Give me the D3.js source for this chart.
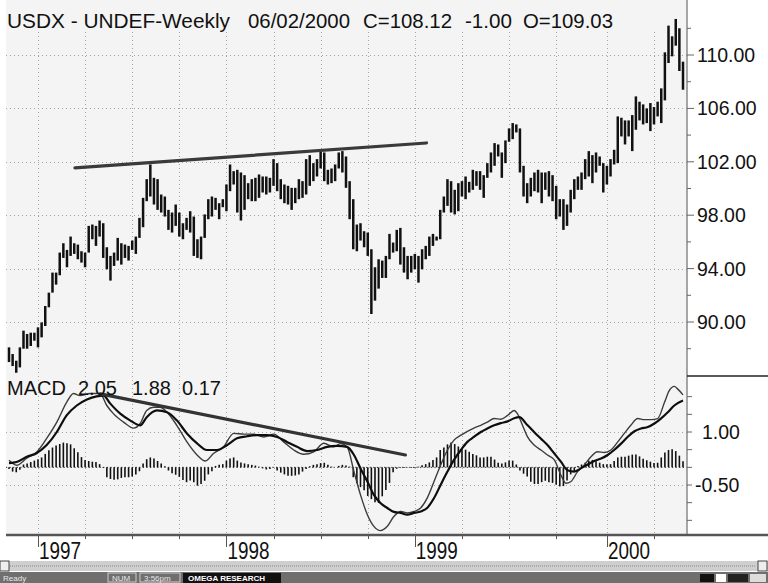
<!DOCTYPE html>
<html>
<head>
<meta charset="utf-8">
<script src="https://cdnjs.cloudflare.com/ajax/libs/d3/7.8.5/d3.min.js"></script>
<style>
  body { margin: 0; background: #fff; }
  svg { display: block; font-family: "Liberation Sans", Arial, sans-serif; }
</style>
</head>
<body>
<svg id="chart" width="768" height="583"></svg>
<script>
// weekly bars, first one on Fri 8 Nov 1996, last on 06/02/2000
const firstWeek = new Date(1996, 10, 8);

const highs = [
  88.1, 87.6, 87.1, 88.1, 89.35, 89.1, 89.2, 89.2, 89.6, 89.97,
  91.2, 92.2, 93.7, 93.7, 95.2, 95.9, 95.4, 96.4, 95.9, 95.8,
  95.3, 95.2, 97.2, 97.3, 97.2, 97.6, 97.4, 95.6, 94.95, 95.2,
  96.3, 95.9, 95.8, 95.7, 96.1, 96.4, 97.8, 99.3, 100.7, 101.8,
  100.8, 100.7, 99.55, 99.4, 98.4, 98.2, 98.8, 98.2, 97.4, 97.8,
  98.3, 97.9, 96.2, 96.4, 98.06, 99.2, 99.4, 99.3, 98.9, 99.2,
  100.3, 101.8, 101.3,
  101.4, 101.2, 101.0, 100.4, 100.7, 100.8, 101.05, 100.9, 100.9, 100.8,
  102.2, 101.9, 100.7, 100.3, 100.2, 100.05, 100.05, 100.7, 100.55, 102.2,
  102.5, 101.9, 102.2, 102.8, 102.7, 101.4, 101.5, 101.8, 102.7, 102.8,
  102.4, 100.55, 99.2, 97.3, 97.4, 96.8, 96.7, 95.45, 94.1, 94.7,
  94.6, 94.95, 96.6, 95.95, 96.9, 97.05, 95.6, 94.95, 94.95, 95.1,
  94.95, 95.45, 95.7, 96.4, 96.6, 96.4, 98.4, 99.4, 100.7, 100.55,
  99.9, 100.4, 100.55,
  100.9, 100.5, 101.4, 101.3, 101.3, 101.0, 101.9, 102.7, 103.4, 103.3,
  102.7, 103.6, 104.5, 104.9, 104.8, 104.5, 101.7, 100.4, 100.8, 101.2,
  101.4, 101.2, 101.2, 101.3, 101.0, 100.2, 99.2, 99.2, 98.8, 99.9,
  100.7, 100.9, 101.2, 102.2, 102.8, 102.5, 102.7, 102.4, 101.9, 101.7,
  102.2, 102.9, 105.4, 105.3, 105.1, 105.1, 105.5, 106.9, 106.5, 106.3,
  106.0, 106.4, 106.1, 106.5, 107.5, 110.2, 112.2, 111.4, 112.7, 112.0,
  109.5
];

const lows = [
  87.0, 86.7, 86.2, 86.6, 88.0, 88.0, 88.2, 88.6, 88.1, 88.85,
  89.7, 91.1, 92.2, 92.8, 93.5, 94.8, 94.1, 94.95, 95.1, 94.7,
  94.45, 94.1, 95.2, 96.2, 95.7, 96.4, 94.8, 93.95, 93.1, 94.2,
  94.6, 94.3, 94.8, 94.6, 95.4, 95.1, 96.3, 97.1, 99.05, 99.4,
  98.8, 98.4, 98.2, 97.9, 96.9, 96.7, 97.2, 96.4, 96.2, 96.9,
  96.7, 94.95, 94.8, 94.7, 96.3, 97.7, 97.9, 98.4, 97.7, 98.6,
  98.3, 99.8, 100.3,
  98.2, 97.6, 98.4, 99.2, 99.05, 99.05, 99.3, 99.7, 99.55, 99.7,
  100.2, 99.8, 99.2, 98.9, 98.8, 98.4, 98.9, 99.2, 99.3, 99.55,
  100.2, 100.55, 100.9, 101.5, 100.55, 100.3, 100.4, 100.55, 101.5, 101.2,
  100.05, 97.7, 95.45, 95.3, 96.1, 95.6, 94.95, 90.6, 91.6, 92.5,
  93.3, 93.3, 94.7, 95.2, 95.3, 94.3, 93.7, 93.2, 93.7, 93.95,
  92.95, 93.95, 94.7, 94.95, 95.7, 96.1, 96.2, 98.2, 98.7, 98.2,
  98.06, 98.3, 99.4,
  99.2, 99.7, 99.9, 100.2, 99.9, 99.3, 100.8, 101.2, 101.7, 102.4,
  100.8, 101.9, 103.5, 103.7, 104.2, 101.2, 99.4, 98.9, 99.4, 99.8,
  99.7, 98.9, 99.9, 99.4, 99.05, 97.7, 97.9, 96.9, 97.2, 98.2,
  99.2, 99.9, 99.9, 100.7, 100.9, 100.4, 101.2, 101.7, 99.7, 100.3,
  100.9, 101.8, 101.9, 103.9, 103.3, 103.9, 102.8, 104.4, 105.1, 104.8,
  104.9, 104.3, 104.8, 105.4, 104.9, 106.6, 109.4, 109.9, 110.7, 108.8,
  107.4
];

// MACD and its signal line, [week, value]
const macdLine = [
  [0, 0.20], [2.1, 0.06], [4.9, 0.26], [7.6, 0.43], [10.4, 0.82], [13.2, 1.28], [15.9, 1.84],
  [17.8, 2.09], [19.6, 2.03], [22.4, 2.09], [25.1, 2.09], [27.0, 1.75], [28.8, 1.52], [31.6, 1.28],
  [34.4, 1.11], [36.2, 1.24], [38.0, 1.61], [39.9, 1.70], [41.7, 1.70], [43.6, 1.56], [46.3, 1.19],
  [49.1, 0.72], [51.9, 0.35], [54.2, 0.18], [56.5, 0.40], [59.2, 0.58], [62.0, 0.96], [64.8, 0.94],
  [67.5, 0.94], [70.3, 0.86], [73.1, 0.94], [75.8, 0.72], [78.6, 0.49], [81.3, 0.37], [84.1, 0.44],
  [86.9, 0.68], [89.6, 0.58], [91.5, 0.67], [93.3, 0.58], [95.2, -0.12], [97.0, -0.78], [98.9, -1.34],
  [100.7, -1.67], [102.5, -1.79], [104.4, -1.67], [106.2, -1.39], [108.1, -1.25], [109.9, -1.29],
  [111.8, -1.25], [113.6, -1.15], [115.4, -0.87], [117.3, -0.40], [119.1, 0.06], [121.0, 0.49],
  [122.8, 0.77], [124.7, 0.91], [126.5, 1.02], [128.3, 1.11], [130.2, 1.19], [132.0, 1.28],
  [133.9, 1.38], [135.7, 1.36], [137.6, 1.47], [139.4, 1.61], [140.3, 1.52], [141.7, 1.19],
  [143.1, 0.86], [144.9, 0.63], [146.8, 0.49], [148.6, 0.35], [150.5, 0.21], [152.3, -0.22],
  [153.7, -0.45], [155.1, -0.40], [156.9, -0.12], [158.7, 0.06], [160.6, 0.30], [162.4, 0.44],
  [164.3, 0.42], [166.1, 0.49], [168.0, 0.72], [169.8, 0.96], [171.6, 1.19], [173.5, 1.38],
  [175.3, 1.35], [177.2, 1.35], [179.0, 1.38], [180.9, 1.84], [182.2, 2.17], [183.6, 2.29],
  [184.5, 2.22], [186, 2.05]
];

const signalLine = [
  [0, 0.12], [2.1, 0.15], [4.9, 0.30], [7.6, 0.40], [10.4, 0.63], [13.2, 1.00], [15.9, 1.47],
  [18.7, 1.75], [21.5, 1.92], [24.2, 2.01], [26.1, 2.03], [27.9, 1.81], [30.7, 1.52], [33.4, 1.33],
  [36.2, 1.19], [38.0, 1.42], [40.8, 1.61], [43.6, 1.56], [46.3, 1.33], [49.1, 0.96], [51.9, 0.68],
  [54.6, 0.49], [57.4, 0.49], [60.2, 0.63], [62.9, 0.82], [65.7, 0.88], [68.4, 0.91], [71.2, 0.91],
  [74.0, 0.86], [76.7, 0.72], [79.5, 0.58], [82.3, 0.46], [85.0, 0.49], [87.8, 0.58], [90.6, 0.61],
  [93.3, 0.58], [95.2, 0.35], [97.0, -0.03], [98.9, -0.40], [100.7, -0.78], [102.5, -1.01],
  [104.4, -1.15], [106.2, -1.26], [108.1, -1.29], [109.9, -1.34], [111.8, -1.29], [113.6, -1.25],
  [115.4, -1.15], [117.3, -0.87], [119.1, -0.50], [121.0, -0.12], [122.8, 0.21], [124.7, 0.49],
  [126.5, 0.72], [128.3, 0.86], [130.2, 1.00], [132.0, 1.10], [133.9, 1.19], [135.7, 1.25],
  [137.6, 1.30], [139.4, 1.39], [140.8, 1.42], [143.1, 1.19], [144.9, 1.00], [146.8, 0.81],
  [148.6, 0.63], [150.5, 0.39], [152.3, 0.16], [154.1, -0.08], [156.0, -0.12], [157.8, -0.03],
  [159.7, 0.08], [161.5, 0.18], [163.4, 0.25], [165.2, 0.35], [167.0, 0.49], [168.9, 0.67],
  [170.7, 0.86], [172.6, 1.02], [174.4, 1.10], [176.3, 1.14], [178.1, 1.24], [179.9, 1.38],
  [181.8, 1.56], [183.6, 1.75], [186, 1.89]
];

// one histogram value per week
const histogram = [
  -0.05, -0.12, -0.14, -0.07, 0.08, 0.11, 0.15, 0.19, 0.23, 0.28,
  0.38, 0.48, 0.56, 0.62, 0.66, 0.70, 0.68, 0.65, 0.54, 0.43,
  0.29, 0.21, 0.18, 0.16, 0.15, 0.09, -0.02, -0.28, -0.33, -0.35,
  -0.34, -0.30, -0.28, -0.28, -0.26, -0.20, -0.11, 0.11, 0.23, 0.28,
  0.25, 0.18, 0.11, 0.03, -0.09, -0.17, -0.21, -0.27, -0.36, -0.42,
  -0.37, -0.42, -0.52, -0.47, -0.38, -0.20, -0.11, 0.04, 0.07, 0.09,
  0.19, 0.25, 0.28, 0.19, 0.14, 0.11, 0.09, 0.07, 0.05, 0.02,
  -0.03, -0.06, -0.05, -0.01, -0.09, -0.15, -0.20, -0.24, -0.24, -0.23,
  -0.20, -0.12, -0.05, 0.03, 0.07, 0.09, 0.12, 0.13, 0.07, 0.02,
  0.00, 0.04, 0.07, 0.05, 0.02, -0.28, -0.45, -0.56, -0.65, -0.81,
  -0.90, -0.99, -1.01, -0.82, -0.64, -0.44, -0.14, -0.04, -0.02, -0.02,
  -0.01, -0.02, -0.02, 0.02, 0.06, 0.09, 0.14, 0.21, 0.28, 0.49,
  0.56, 0.65, 0.70, 0.66, 0.59, 0.54, 0.50, 0.44, 0.38, 0.34,
  0.28, 0.28, 0.30, 0.30, 0.22, 0.13, 0.11, 0.14, 0.19, 0.19,
  0.08, -0.09, -0.18, -0.26, -0.41, -0.47, -0.47, -0.42, -0.38, -0.42,
  -0.44, -0.49, -0.54, -0.53, -0.37, -0.20, -0.10, 0.04, 0.08, 0.13,
  0.19, 0.21, 0.17, 0.13, 0.09, 0.09, 0.09, 0.18, 0.28, 0.30,
  0.30, 0.33, 0.36, 0.36, 0.31, 0.24, 0.20, 0.16, 0.12, 0.13,
  0.28, 0.42, 0.49, 0.51, 0.46, 0.33, 0.17
];

// hand drawn trend lines, [week, value]
const priceTrend = [[18.2, 101.54], [115.2, 103.41]];
const macdTrend = [[25.2, 2.08], [109.4, 0.35]];

const priceTicks = [90, 94, 98, 102, 106, 110];
const priceMinor = [88, 92, 96, 100, 104, 108, 112];
const macdTicks = [-1.5, -1, -0.5, 0, 0.5, 1, 1.5, 2];
const macdLabels = [1.0, -0.5];

const titleParts = ["USDX - UNDEF-Weekly", "06/02/2000", "C=108.12", "-1.00", "O=109.03"];
const macdParts = ["MACD", "2.05", "1.88", "0.17"];

const svg = d3.select("#chart");
const W = 768, H = 583;
const left = 6, axisX = 687, split = 376, bottom = 534;

const weeks = d3.range(highs.length).map(i => d3.timeDay.offset(firstWeek, 7 * i));
const x = d3.scaleLinear().domain([0, highs.length - 1]).range([9, 683]);
const y = d3.scaleLinear().domain([90, 110]).range([322, 55]);
const m = d3.scaleLinear().domain([-0.5, 1]).range([485, 432]);

// first bar of each quarter / year
const quarterStarts = weeks.map((d, i) => i).filter(i => i > 0 &&
  Math.floor(weeks[i].getMonth() / 3) !== Math.floor(weeks[i - 1].getMonth() / 3));
const yearStarts = quarterStarts.filter(i => weeks[i].getFullYear() !== weeks[i - 1].getFullYear());

svg.append("rect").attr("width", W).attr("height", H).attr("fill", "#fff");
svg.append("rect").attr("x", left).attr("y", 0).attr("width", axisX - left).attr("height", bottom)
  .attr("fill", "#f4f4f4");

// grid
const grid = svg.append("g").attr("stroke", "#a4a4a4").attr("stroke-width", 1)
  .attr("stroke-dasharray", "1,3");
grid.selectAll(".vg").data(quarterStarts).enter().append("line")
  .attr("x1", d => Math.round(x(d)) + 0.5).attr("x2", d => Math.round(x(d)) + 0.5)
  .attr("y1", 32).attr("y2", bottom);
grid.selectAll(".hg").data(priceTicks).enter().append("line")
  .attr("x1", left).attr("x2", axisX)
  .attr("y1", d => Math.round(y(d)) + 0.5).attr("y2", d => Math.round(y(d)) + 0.5);
grid.selectAll(".mg").data(macdLabels).enter().append("line")
  .attr("x1", left).attr("x2", axisX)
  .attr("y1", d => Math.round(m(d)) + 0.5).attr("y2", d => Math.round(m(d)) + 0.5);

// price bars
svg.append("g").selectAll("line").data(highs).enter().append("line")
  .attr("x1", (d, i) => x(i)).attr("x2", (d, i) => x(i))
  .attr("y1", d => y(d)).attr("y2", (d, i) => y(lows[i]))
  .attr("stroke", "#111").attr("stroke-width", 2.5);

svg.append("line")
  .attr("x1", x(priceTrend[0][0])).attr("y1", y(priceTrend[0][1]))
  .attr("x2", x(priceTrend[1][0])).attr("y2", y(priceTrend[1][1]))
  .attr("stroke", "#3a3a3a").attr("stroke-width", 3.2).attr("stroke-linecap", "round");

// MACD pane
svg.append("line").attr("x1", left).attr("x2", axisX).attr("y1", m(0)).attr("y2", m(0))
  .attr("stroke", "#333").attr("stroke-dasharray", "1.2,2.4");

svg.append("g").selectAll("line").data(histogram).enter().append("line")
  .attr("x1", (d, i) => x(i)).attr("x2", (d, i) => x(i))
  .attr("y1", m(0)).attr("y2", d => m(d))
  .attr("stroke", "#111").attr("stroke-width", 1.6);

const line = d3.line().x(d => x(d[0])).y(d => m(d[1])).curve(d3.curveMonotoneX);
svg.append("path").datum(macdLine).attr("d", line)
  .attr("fill", "none").attr("stroke", "#3c3c3c").attr("stroke-width", 1.4);
svg.append("path").datum(signalLine).attr("d", line)
  .attr("fill", "none").attr("stroke", "#0e0e0e").attr("stroke-width", 2.2);

svg.append("line")
  .attr("x1", x(macdTrend[0][0])).attr("y1", m(macdTrend[0][1]))
  .attr("x2", x(macdTrend[1][0])).attr("y2", m(macdTrend[1][1]))
  .attr("stroke", "#333").attr("stroke-width", 3.2).attr("stroke-linecap", "round");

// labels on the panes
const titleX = [7, 248, 363, 465, 523];
const titleW = [223, 102, 89, 47, 90];
svg.append("g").selectAll("text").data(titleParts).enter().append("text")
  .attr("x", (d, i) => titleX[i]).attr("y", 28)
  .attr("textLength", (d, i) => titleW[i]).attr("lengthAdjust", "spacingAndGlyphs")
  .attr("font-size", 20).attr("fill", "#111").text(d => d);

const macdX = [7, 78, 132, 182];
svg.append("g").selectAll("text").data(macdParts).enter().append("text")
  .attr("x", (d, i) => macdX[i]).attr("y", 395)
  .attr("font-size", 20).attr("fill", "#111").text(d => d);

// right axis
svg.append("line").attr("x1", axisX).attr("x2", axisX).attr("y1", 0).attr("y2", bottom)
  .attr("stroke", "#8a8a8a").attr("stroke-width", 1.5);
svg.append("line").attr("x1", axisX).attr("x2", W).attr("y1", split).attr("y2", split)
  .attr("stroke", "#222").attr("stroke-width", 1.5);

const ax = svg.append("g").attr("stroke", "#666").attr("stroke-width", 1);
ax.selectAll(".pt").data(priceTicks).enter().append("line")
  .attr("x1", axisX).attr("x2", axisX + 7).attr("y1", d => y(d)).attr("y2", d => y(d));
ax.selectAll(".pm").data(priceMinor).enter().append("line")
  .attr("x1", axisX).attr("x2", axisX + 4).attr("y1", d => y(d)).attr("y2", d => y(d));
ax.selectAll(".mt").data(macdTicks).enter().append("line")
  .attr("x1", axisX).attr("x2", axisX + 5).attr("y1", d => m(d)).attr("y2", d => m(d));

const fmt = d => d3.format(".2f")(d).replace("\u2212", "-");
svg.append("g").selectAll("text").data(priceTicks).enter().append("text")
  .attr("x", 697).attr("y", d => y(d)).attr("dy", "0.36em")
  .attr("font-size", 19.5).attr("fill", "#111").text(d => fmt(d));
svg.append("g").selectAll("text").data(macdLabels).enter().append("text")
  .attr("x", d => d < 0 ? 695 : 702).attr("y", d => m(d)).attr("dy", "0.36em")
  .attr("font-size", 19.5).attr("fill", "#111").text(d => fmt(d));

// time axis
svg.append("line").attr("x1", left).attr("x2", W).attr("y1", bottom + 1).attr("y2", bottom + 1)
  .attr("stroke", "#555").attr("stroke-width", 2.5);
svg.append("g").selectAll("line").data(quarterStarts).enter().append("line")
  .attr("x1", d => Math.round(x(d)) + 0.5).attr("x2", d => Math.round(x(d)) + 0.5)
  .attr("y1", bottom + 2).attr("y2", d => yearStarts.includes(d) ? bottom + 13 : bottom + 5)
  .attr("stroke", "#555").attr("stroke-width", 1);
svg.append("g").selectAll("text").data(yearStarts).enter().append("text")
  .attr("x", d => x(d) + 1).attr("y", 559)
  .attr("font-size", 23).attr("fill", "#111")
  .attr("textLength", 42).attr("lengthAdjust", "spacingAndGlyphs")
  .text(d => weeks[d].getFullYear());

// scroll bar and status bar of the window
svg.append("rect").attr("x", 0).attr("y", 561).attr("width", W).attr("height", 10).attr("fill", "#cfcfcf");
svg.append("line").attr("x1", 10).attr("x2", 756).attr("y1", 566).attr("y2", 566)
  .attr("stroke", "#888").attr("stroke-dasharray", "1,1");
svg.append("rect").attr("x", 0).attr("y", 561).attr("width", 9).attr("height", 10)
  .attr("fill", "#eee").attr("stroke", "#444");
svg.append("rect").attr("x", 758).attr("y", 561).attr("width", 9).attr("height", 10)
  .attr("fill", "#eee").attr("stroke", "#444");
svg.append("rect").attr("x", 0).attr("y", 572).attr("width", W).attr("height", 11).attr("fill", "#6f6f6f");
const status = svg.append("g").attr("font-size", 8).attr("fill", "#e8e8e8");
status.append("text").attr("x", 3).attr("y", 581).text("Ready");
status.append("rect").attr("x", 108).attr("y", 573).attr("width", 28).attr("height", 9)
  .attr("fill", "none").attr("stroke", "#ccc");
status.append("text").attr("x", 112).attr("y", 581).text("NUM");
status.append("rect").attr("x", 140).attr("y", 573).attr("width", 40).attr("height", 9)
  .attr("fill", "none").attr("stroke", "#ccc");
status.append("text").attr("x", 144).attr("y", 581).text("3:56pm");
status.append("rect").attr("x", 183).attr("y", 573).attr("width", 98).attr("height", 10).attr("fill", "#111");
status.append("text").attr("x", 188).attr("y", 581).attr("font-weight", "bold").attr("fill", "#fff")
  .text("OMEGA RESEARCH");
status.append("rect").attr("x", 700).attr("y", 574).attr("width", 14).attr("height", 8).attr("fill", "#111");
status.append("rect").attr("x", 716).attr("y", 574).attr("width", 10).attr("height", 8).attr("fill", "#fff");
status.append("rect").attr("x", 728).attr("y", 574).attr("width", 20).attr("height", 8).attr("fill", "#222");
status.append("rect").attr("x", 750).attr("y", 574).attr("width", 16).attr("height", 8).attr("fill", "#ddd");
</script>
</body>
</html>
